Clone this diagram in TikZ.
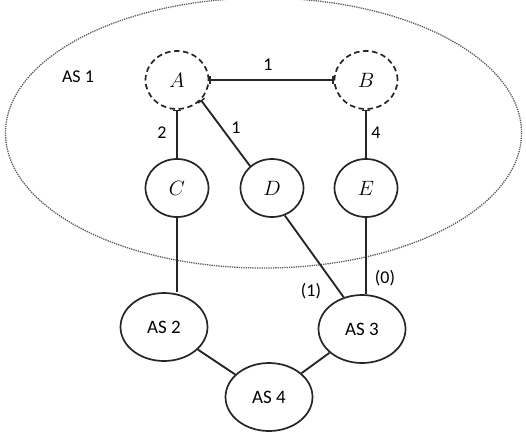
\documentclass[tikz,border=0pt]{standalone}
\usepackage{fontspec}
\setmainfont{Carlito}
\usetikzlibrary{shapes.geometric,arrows.meta}
\tikzset{
        router/.style={ellipse, draw=black!85, line width=0.6mm, inner sep=0pt, minimum width=63pt, minimum height=58pt, font=\fontsize{21}{24}\selectfont},
        hidden/.style={router, dashed, dash pattern=on 5.5pt off 3.5pt},
        asnode/.style={ellipse, draw=black!85, line width=0.6mm, inner sep=0pt, minimum width=87pt, minimum height=68pt, font=\fontsize{19}{22}\selectfont},
        region/.style={draw=black!65, line width=0.45mm, densely dotted},
        link/.style={draw=black!85, line width=0.65mm},
        tick/.style={link, {Bar[width=8pt,line width=0.5mm]}-},
        ticks/.style={link, {Bar[width=8pt,line width=0.5mm]}-{Bar[width=8pt,line width=0.5mm]}},
        weight/.style={inner sep=1pt, font=\fontsize{18}{21}\selectfont}
          }
\begin{document}
\begin{tikzpicture}[x=1pt,y=-1pt]
        \useasboundingbox (0,0) rectangle (526,440);
        % AS 1 boundary
        \draw[region] (263.5,133) ellipse [x radius=258, y radius=135];
        \node[weight] (as1) at (78,77) {AS 1};
        % routers
        \node[hidden] (A) at (177,80) {$A$};
        \node[hidden] (B) at (366,80) {$B$};
        \node[router] (C) at (177,188) {$C$};
        \node[router] (D) at (272,188) {$D$};
        \node[router] (E) at (366,188) {$E$};
        % neighbour ASes
        \node[asnode] (as2) at (164,327) {AS 2};
        \node[asnode] (as3) at (362,329) {AS 3};
        \node[asnode] (as4) at (269,397) {AS 4};
        % links
        \draw[ticks] (A) -- (B);
        \draw[tick] (A) -- (C);
        \draw[tick] (A.-40) -- (D.135);
        \draw[tick] (B) -- (E);
        \draw[link] (C) -- (C |- as2.north);
        \draw[link] (D.-65) -- (as3.120);
        \draw[link] (E) -- (E |- as3.north);
        \draw[link] (as2) -- (as4);
        \draw[link] (as3) -- (as4);
        % weights
        \node[weight] (wab) at (268,65) {1};
        \node[weight] (wac) at (162,133) {2};
        \node[weight] (wad) at (236,128) {1};
        \node[weight] (wbe) at (376,133) {4};
        \node[weight] (wd3) at (311,291) {(1)};
        \node[weight] (we3) at (385,278) {(0)};
\end{tikzpicture}
\end{document}
